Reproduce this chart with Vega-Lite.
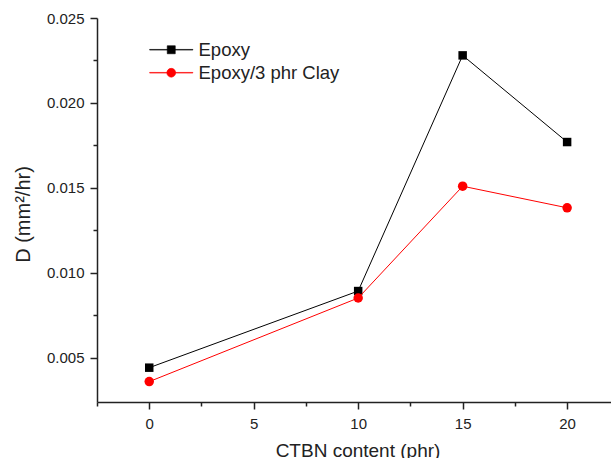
{
  "$schema": "https://vega.github.io/schema/vega-lite/v6.json",
  "width": 514,
  "height": 384,
  "autosize": "none",
  "padding": {"left": 97, "top": 18, "right": 0, "bottom": 56},
  "background": "white",
  "config": {
    "view": {"stroke": null},
    "font": "Liberation Sans",
    "axis": {"grid": false, "domainColor": "#222", "domainWidth": 1.5, "tickColor": "#222", "tickWidth": 1.5, "labelColor": "#222", "titleColor": "#222", "labelFont": "Liberation Sans", "titleFont": "Liberation Sans", "labelFontSize": 15, "titleFontSize": 19, "titleFontWeight": "normal"}
  },
  "data": {
    "values": [
      {"ctbn": 0, "D": 0.00442, "series": "Epoxy"},
      {"ctbn": 10, "D": 0.00893, "series": "Epoxy"},
      {"ctbn": 15, "D": 0.02280, "series": "Epoxy"},
      {"ctbn": 20, "D": 0.01770, "series": "Epoxy"},
      {"ctbn": 0, "D": 0.00360, "series": "Epoxy/3 phr Clay"},
      {"ctbn": 10, "D": 0.00852, "series": "Epoxy/3 phr Clay"},
      {"ctbn": 15, "D": 0.01510, "series": "Epoxy/3 phr Clay"},
      {"ctbn": 20, "D": 0.01383, "series": "Epoxy/3 phr Clay"}
    ]
  },
  "encoding": {
    "x": {
      "field": "ctbn", "type": "quantitative",
      "scale": {"domain": [-2.5, 22.1], "nice": false, "zero": false},
      "axis": {
        "title": "CTBN content (phr)",
        "values": [-2.5, 0, 2.5, 5, 7.5, 10, 12.5, 15, 17.5, 20],
        "labelExpr": "datum.value % 5 === 0 ? datum.label : ''",
        "tickSize": {"condition": {"test": "datum.value % 5 !== 0", "value": 4}, "value": 7},
        "labelPadding": 7,
        "labelFlush": false,
        "titleX": 260.5, "titleY": 54.6, "titleBaseline": "alphabetic", "titleAlign": "center"
      }
    },
    "y": {
      "field": "D", "type": "quantitative",
      "scale": {"domain": [0.0024, 0.025], "nice": false, "zero": false},
      "axis": {
        "title": "D (mm²/hr)",
        "titleFontSize": 20,
        "values": [0.005, 0.0075, 0.01, 0.0125, 0.015, 0.0175, 0.02, 0.0225, 0.025],
        "labelExpr": "abs(datum.value*200 - round(datum.value*200)) < 0.001 ? format(datum.value, '.3f') : ''",
        "tickSize": {"condition": {"test": "abs(datum.value*200 - round(datum.value*200)) > 0.001", "value": 4}, "value": 7},
        "labelPadding": 6,
        "labelFlush": false,
        "titleX": -68, "titleY": 196, "titleAngle": 270, "titleBaseline": "alphabetic", "titleAlign": "center"
      }
    },
    "color": {
      "field": "series", "type": "nominal",
      "scale": {"domain": ["Epoxy", "Epoxy/3 phr Clay"], "range": ["#000000", "#ff0000"]},
      "legend": {
        "title": null,
        "orient": "none",
        "legendX": 65,
        "legendY": 22.5,
        "padding": 0,
        "labelFont": "Liberation Sans",
        "labelFontSize": 18.5,
        "labelColor": "#222",
        "labelOffset": 18,
        "rowPadding": 4,
        "symbolSize": 64,
        "symbolStrokeWidth": 0.6,
        "symbolType": {"expr": "datum.value === 'Epoxy' ? 'M-5.4,-0.08H5.4V0.08H-5.4ZM-1,-1H1V1H-1Z' : 'M-5.4,-0.08H5.4V0.08H-5.4ZM-1.1,0A1.1,1.1,0,1,1,1.1,0A1.1,1.1,0,1,1,-1.1,0Z'"}
      }
    }
  },
  "layer": [
    {
      "transform": [{"filter": {"field": "series", "equal": "Epoxy"}}],
      "mark": {"type": "point", "filled": true, "opacity": 1, "shape": "square", "size": 72}
    },
    {
      "transform": [{"filter": {"field": "series", "equal": "Epoxy/3 phr Clay"}}],
      "mark": {"type": "point", "filled": true, "opacity": 1, "shape": "circle", "size": 90}
    },
    {"mark": {"type": "line", "strokeWidth": 1}}
  ]
}
